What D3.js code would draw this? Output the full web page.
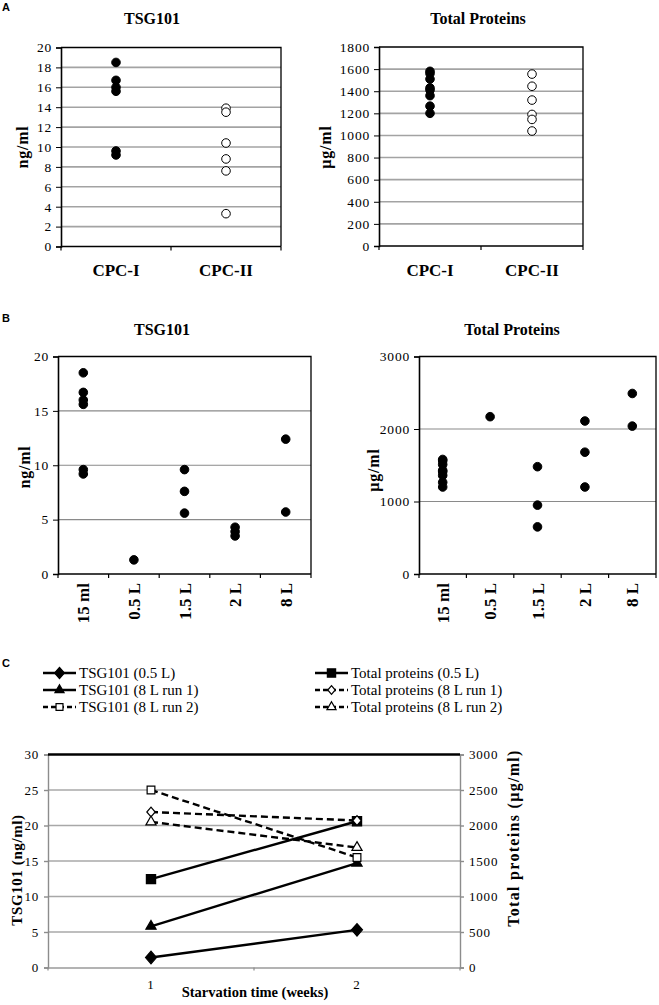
<!DOCTYPE html>
<html lang="en">
<head>
<meta charset="UTF-8">
<title>TSG101 and total proteins</title>
<script src="https://cdnjs.cloudflare.com/ajax/libs/d3/7.9.0/d3.min.js"></script>
<style>
  body{margin:0;background:#fff;}
  svg{display:block;}
  .lbl{font-family:"Liberation Serif","Times New Roman",serif;font-weight:700;fill:#000;}
  .letter{font-family:"Liberation Sans",Arial,sans-serif;font-weight:700;font-size:11px;fill:#000;}
  .leg{font-family:"Liberation Serif","Times New Roman",serif;font-size:15px;fill:#000;}
</style>
</head>
<body>
<script>
/* ---------- Panel A data ---------- */
const groupsA = ["CPC-I", "CPC-II"];
const tsgCpc1 = [18.5, 16.7, 16.0, 15.6, 9.6, 9.2];
const tsgCpc2 = [13.9, 13.5, 10.4, 8.8, 7.6, 3.3];
const protCpc1 = [1580, 1560, 1510, 1430, 1410, 1360, 1265, 1200];
const protCpc2 = [1555, 1445, 1320, 1190, 1145, 1040];
const tsgTicksA = [0, 2, 4, 6, 8, 10, 12, 14, 16, 18, 20];
const protTicksA = [0, 200, 400, 600, 800, 1000, 1200, 1400, 1600, 1800];

/* ---------- Panel B data ---------- */
const volumesB = ["15 ml", "0.5 L", "1.5 L", "2 L", "8 L"];
const tsgB = [[18.5, 16.7, 16.0, 15.6, 9.6, 9.2], [1.3], [9.6, 7.6, 5.6], [4.3, 3.9, 3.5], [12.4, 5.7]];
const protB = [[1580, 1560, 1510, 1430, 1410, 1360, 1265, 1200], [2170], [1480, 950, 650], [2110, 1680, 1200], [2490, 2040]];
const tsgTicksB = [0, 5, 10, 15, 20];
const protTicksB = [0, 1000, 2000, 3000];

/* ---------- Panel C data ---------- */
const weeks = ["1", "2"];
const tsg05L = [1.4, 5.3];
const tsg8Lrun1 = [5.8, 14.7];
const tsg8Lrun2 = [25.0, 15.5];
const prot05L = [1245, 2060];
const prot8Lrun1 = [2190, 2070];
const prot8Lrun2 = [2050, 1690];
const tsgTicksC = [0, 5, 10, 15, 20, 25, 30];
const protTicksC = [0, 500, 1000, 1500, 2000, 2500, 3000];

const SERIF = "'Liberation Serif','Times New Roman',serif";
const W = 659, H = 1005;
const svg = d3.select("body").append("svg").attr("width", W).attr("height", H);
svg.append("rect").attr("width", W).attr("height", H).attr("fill", "#fff");

// panel letters
svg.append("text").attr("class", "letter").attr("x", 2).attr("y", 11).text("A");
svg.append("text").attr("class", "letter").attr("x", 2).attr("y", 322).text("B");
svg.append("text").attr("class", "letter").attr("x", 2).attr("y", 667).text("C");

function styleTicks(a, size) {
  a.attr("font-family", SERIF).attr("font-size", size);
  a.selectAll(".tick text").attr("letter-spacing", 0.8).attr("fill", "#000");
}

/* ---------- dot plot panels (A, B) ---------- */
function dotPanel(p) {
  const g = svg.append("g");
  const x = d3.scaleBand().domain(p.cats).range([p.left, p.right]);
  const y = d3.scaleLinear().domain([0, d3.max(p.ticks)]).range([p.bottom, p.top]);

  g.append("g").selectAll("line").data(p.grid).join("line")
    .attr("x1", p.left).attr("x2", p.right)
    .attr("y1", d => y(d)).attr("y2", d => y(d))
    .attr("stroke", p.gridColor).attr("stroke-width", p.gridWidth);

  g.append("path")
    .attr("d", `M${p.left},${p.top}H${p.right}V${p.bottom}`)
    .attr("fill", "none").attr("stroke", "#000").attr("stroke-width", 1.3);

  const ya = g.append("g").attr("transform", `translate(${p.left},0)`)
    .call(d3.axisLeft(y).tickValues(p.ticks).tickFormat(d3.format("d")).tickSize(5).tickPadding(4));
  ya.select(".domain").attr("stroke-width", 1.6);
  styleTicks(ya, 13.5);

  // bottom axis with ticks at category boundaries
  g.append("line").attr("x1", p.left).attr("x2", p.right)
    .attr("y1", p.bottom).attr("y2", p.bottom)
    .attr("stroke", "#000").attr("stroke-width", 1.6);
  const bounds = p.cats.map(d => x(d)).concat([x(p.cats[p.cats.length - 1]) + x.bandwidth()]);
  g.append("g").selectAll("line").data(bounds).join("line")
    .attr("x1", d => d).attr("x2", d => d)
    .attr("y1", p.bottom).attr("y2", p.bottom + 4)
    .attr("stroke", "#000").attr("stroke-width", 1.2);

  // category labels
  const cl = g.append("g").selectAll("text").data(p.cats).join("text")
    .attr("class", "lbl").attr("font-size", p.catSize).text(d => d);
  if (p.rotate) {
    cl.attr("text-anchor", "end")
      .attr("transform", d => `translate(${x(d) + x.bandwidth() / 2 + 6},${p.bottom + 9}) rotate(-90)`);
  } else {
    cl.attr("text-anchor", "middle").attr("x", d => x(d) + x.bandwidth() / 2).attr("y", p.catY);
  }

  // points
  p.values.forEach((vals, i) => {
    g.append("g").selectAll("circle").data(vals).join("circle")
      .attr("cx", x(p.cats[i]) + x.bandwidth() / 2)
      .attr("cy", d => y(d))
      .attr("r", 4.3)
      .attr("fill", p.filled[i] ? "#000" : "#fff")
      .attr("stroke", "#000").attr("stroke-width", 1);
  });

  g.append("text").attr("class", "lbl").attr("font-size", 16)
    .attr("text-anchor", "middle").attr("x", p.titleX).attr("y", p.titleY).text(p.title);
  g.append("text").attr("class", "lbl").attr("font-size", 16)
    .attr("text-anchor", "middle").attr("letter-spacing", 0.8)
    .attr("transform", `translate(${p.ylabX},${p.ylabY}) rotate(-90)`).text(p.ylab);
}

dotPanel({cats: groupsA, values: [tsgCpc1, tsgCpc2], filled: [true, false],
  ticks: tsgTicksA, grid: tsgTicksA.slice(1, -1), gridColor: "#a3a3a3", gridWidth: 1.6,
  left: 61, right: 281, top: 47.5, bottom: 246.5,
  catSize: 17, catY: 276, title: "TSG101", titleX: 152, titleY: 24,
  ylab: "ng/ml", ylabX: 28, ylabY: 147});

dotPanel({cats: groupsA, values: [protCpc1, protCpc2], filled: [true, false],
  ticks: protTicksA, grid: protTicksA.slice(1, -1), gridColor: "#a3a3a3", gridWidth: 1.6,
  left: 379, right: 583, top: 47, bottom: 246,
  catSize: 17, catY: 276, title: "Total Proteins", titleX: 478, titleY: 24,
  ylab: "\u00b5g/ml", ylabX: 331, ylabY: 147});

dotPanel({cats: volumesB, values: tsgB, filled: volumesB.map(() => true),
  ticks: tsgTicksB, grid: tsgTicksB.slice(1, -1), gridColor: "#8a8a8a", gridWidth: 1.1,
  left: 58, right: 311, top: 356.5, bottom: 574,
  catSize: 17, rotate: true, title: "TSG101", titleX: 162, titleY: 335,
  ylab: "ng/ml", ylabX: 30, ylabY: 467});

dotPanel({cats: volumesB, values: protB, filled: volumesB.map(() => true),
  ticks: protTicksB, grid: protTicksB.slice(1, -1), gridColor: "#8a8a8a", gridWidth: 1.1,
  left: 419, right: 656, top: 356.5, bottom: 574,
  catSize: 17, rotate: true, title: "Total Proteins", titleX: 512, titleY: 335,
  ylab: "\u00b5g/ml", ylabX: 379, ylabY: 470});

/* ---------- Panel C: line chart with two y axes ---------- */
const cL = 48, cR = 460, cT = 754.5, cB = 967.5;
const xC = d3.scaleBand().domain(weeks).range([cL, cR]);
const yTsg = d3.scaleLinear().domain([0, d3.max(tsgTicksC)]).range([cB, cT]);
const yProt = d3.scaleLinear().domain([0, d3.max(protTicksC)]).range([cB, cT]);

const diamondSym = {draw(ctx, size) {
  const r = Math.sqrt(size) / 2;
  ctx.moveTo(0, -r * 1.15); ctx.lineTo(r, 0); ctx.lineTo(0, r * 1.15); ctx.lineTo(-r, 0); ctx.closePath();
}};
const shapes = {diamond: diamondSym, triangle: d3.symbolTriangle, square: d3.symbolSquare};

const seriesC = [
  {name: "TSG101 (0.5 L)", vals: tsg05L, y: yTsg, dash: null, shape: "diamond", fill: true, size: 120},
  {name: "TSG101 (8 L run 1)", vals: tsg8Lrun1, y: yTsg, dash: null, shape: "triangle", fill: true, size: 45},
  {name: "TSG101 (8 L run 2)", vals: tsg8Lrun2, y: yTsg, dash: "7,4", shape: "square", fill: false, size: 60},
  {name: "Total proteins (0.5 L)", vals: prot05L, y: yProt, dash: null, shape: "square", fill: true, size: 85},
  {name: "Total proteins (8 L run 1)", vals: prot8Lrun1, y: yProt, dash: "7,4", shape: "diamond", fill: false, size: 70},
  {name: "Total proteins (8 L run 2)", vals: prot8Lrun2, y: yProt, dash: "7,4", shape: "triangle", fill: false, size: 45}
];

const gC = svg.append("g");
gC.append("g").selectAll("line").data(tsgTicksC.slice(1, -1)).join("line")
  .attr("x1", cL).attr("x2", cR).attr("y1", d => yTsg(d)).attr("y2", d => yTsg(d))
  .attr("stroke", "#a8a8a8").attr("stroke-width", 1.4);

const axL = gC.append("g").attr("transform", `translate(${cL},0)`)
  .call(d3.axisLeft(yTsg).tickValues(tsgTicksC).tickFormat(d3.format("d")).tickSize(4).tickPadding(5));
const axR = gC.append("g").attr("transform", `translate(${cR},0)`)
  .call(d3.axisRight(yProt).tickValues(protTicksC).tickFormat(d3.format("d")).tickSize(4).tickPadding(5));
const axB = gC.append("g").attr("transform", `translate(0,${cB})`)
  .call(d3.axisBottom(xC).tickSize(0).tickPadding(12));
[axL, axR, axB].forEach(a => styleTicks(a, 13));
[axL, axR].forEach(a => {
  a.select(".domain").attr("stroke", "#8c8c8c").attr("stroke-width", 1.4);
  a.selectAll(".tick line").attr("stroke", "#8c8c8c").attr("stroke-width", 1.4);
});
axB.select(".domain").attr("stroke", "#9a9a9a").attr("stroke-width", 1.4);
gC.append("g").selectAll("line").data([cL, (cL + cR) / 2, cR]).join("line")
  .attr("x1", d => d).attr("x2", d => d).attr("y1", cB).attr("y2", cB + 3)
  .attr("stroke", "#8c8c8c").attr("stroke-width", 1.2);
gC.append("line").attr("x1", cL).attr("x2", cR).attr("y1", cT).attr("y2", cT)
  .attr("stroke", "#000").attr("stroke-width", 2.4);

const lineGen = s => d3.line().x((d, i) => xC(weeks[i]) + xC.bandwidth() / 2).y(d => s.y(d))(s.vals);
gC.append("g").selectAll("path").data(seriesC).join("path")
  .attr("d", lineGen).attr("fill", "none").attr("stroke", "#000")
  .attr("stroke-width", 2.4).attr("stroke-dasharray", d => d.dash);

seriesC.forEach(s => {
  gC.append("g").selectAll("path").data(s.vals).join("path")
    .attr("transform", (d, i) => `translate(${xC(weeks[i]) + xC.bandwidth() / 2},${s.y(d)})`)
    .attr("d", d3.symbol(shapes[s.shape], s.size))
    .attr("fill", s.fill ? "#000" : "#fff").attr("stroke", "#000").attr("stroke-width", 1.2);
});

gC.append("text").attr("class", "lbl").attr("font-size", 14.5).attr("text-anchor", "middle")
  .attr("x", 255).attr("y", 997).text("Starvation time (weeks)");
gC.append("text").attr("class", "lbl").attr("font-size", 15).attr("text-anchor", "middle")
  .attr("letter-spacing", 0.6)
  .attr("transform", "translate(22,870) rotate(-90)").text("TSG101 (ng/ml)");
gC.append("text").attr("class", "lbl").attr("font-size", 16).attr("text-anchor", "middle")
  .attr("letter-spacing", 1.3)
  .attr("transform", "translate(519,838) rotate(-90)").text("Total proteins (\u00b5g/ml)");

// legend: two columns of three
const legRowY = [673, 690, 707];
const legColX = [43, 315];
seriesC.forEach((s, i) => {
  const col = Math.floor(i / 3), row = i % 3;
  const lx = legColX[col], ly = legRowY[row];
  const lg = svg.append("g");
  lg.append("line").attr("x1", lx).attr("x2", lx + 33).attr("y1", ly).attr("y2", ly)
    .attr("stroke", "#000").attr("stroke-width", 2.4).attr("stroke-dasharray", s.dash ? "5,3" : null);
  lg.append("path").attr("transform", `translate(${lx + 16.5},${ly})`)
    .attr("d", d3.symbol(shapes[s.shape], s.size * 0.8))
    .attr("fill", s.fill ? "#000" : "#fff").attr("stroke", "#000").attr("stroke-width", 1.2);
  lg.append("text").attr("class", "leg").attr("x", lx + 36).attr("y", ly + 5).text(s.name);
});
</script>
</body>
</html>
